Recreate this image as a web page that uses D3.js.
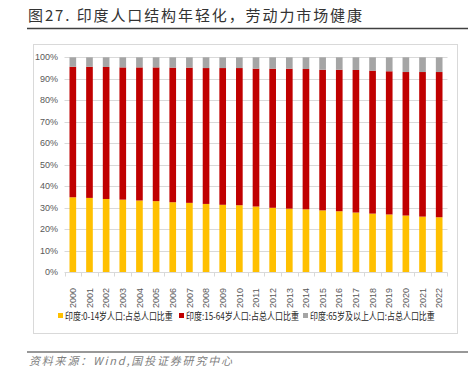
<!DOCTYPE html>
<html><head><meta charset="utf-8">
<script src="https://cdn.jsdelivr.net/npm/d3@7"></script>
<style>body{margin:0;background:#fff;}svg{display:block;font-family:"Noto Sans CJK SC","Liberation Sans",sans-serif;}</style>
</head><body><svg id="c" width="473" height="370"></svg>
<script>
const years = ["2000","2001","2002","2003","2004","2005","2006","2007","2008","2009","2010","2011","2012","2013","2014","2015","2016","2017","2018","2019","2020","2021","2022"];
const young = [34.9,34.6,34.1,33.8,33.4,33.1,32.6,32.3,31.8,31.4,31.2,30.6,30.0,29.6,29.3,28.8,28.4,27.8,27.3,26.9,26.4,25.9,25.6];
const old = [4.4,4.4,4.5,4.7,4.7,4.7,4.8,4.8,5.0,5.0,5.0,5.3,5.3,5.3,5.45,5.8,5.8,5.9,6.2,6.5,6.85,6.85,6.85];
const working = young.map((v,i)=>+(100 - v - old[i]).toFixed(2));
const yTicks = [0,10,20,30,40,50,60,70,80,90,100];
const seriesNames = ["印度:0-14岁人口:占总人口比重","印度:15-64岁人口:占总人口比重","印度:65岁及以上人口:占总人口比重"];
const colors = ["#FFC000","#C00000","#A5A5A5"];

const svg = d3.select("#c");
// title
svg.append("text").attr("x",28).attr("y",21).attr("font-size",15).attr("fill","#333")
  .attr("textLength",334).attr("lengthAdjust","spacing")
  .text("图27. 印度人口结构年轻化，劳动力市场健康");
svg.append("line").attr("x1",27).attr("x2",468).attr("y1",28.5).attr("y2",28.5).attr("stroke","#404040").attr("stroke-width",1.5);
// frame
svg.append("rect").attr("x",33.5).attr("y",44.5).attr("width",424).attr("height",289).attr("fill","none").attr("stroke","#d9d9d9");

const x = d3.scaleBand().domain(years).range([64.5,447.5]).paddingInner(0.6).paddingOuter(0.3);
const y = d3.scaleLinear().domain([0,100]).range([272.3,57.3]);

// grid
svg.append("g").selectAll("line").data(yTicks.slice(1)).join("line")
  .attr("x1",64.5).attr("x2",447.5).attr("y1",d=>Math.round(y(d))+0.5).attr("y2",d=>Math.round(y(d))+0.5)
  .attr("stroke","#d9d9d9");

const data = years.map((yr,i)=>({year:yr, a:young[i], b:working[i], c:old[i]}));
const stack = d3.stack().keys(["a","b","c"])(data);
svg.append("g").selectAll("g").data(stack).join("g").attr("fill",(d,i)=>colors[i])
  .selectAll("rect").data(d=>d).join("rect")
  .attr("x",d=>x(d.data.year)).attr("width",x.bandwidth())
  .attr("y",d=>y(d[1])).attr("height",d=>y(d[0])-y(d[1]));

// y axis labels
svg.append("g").selectAll("text").data(yTicks).join("text")
  .attr("x",58).attr("y",d=>y(d)+3).attr("text-anchor","end").attr("font-size",9).attr("fill","#595959")
  .attr("font-family","Liberation Sans Narrow, Liberation Sans, sans-serif")
  .text(d=>d+"%");

// x axis
const g = svg.append("g").attr("transform","translate(0,272.5)");
g.append("line").attr("x1",64.5).attr("x2",447.5).attr("stroke","#d9d9d9");
const bounds = d3.range(years.length+1).map(i=>64.5 + i*(383/years.length));
g.selectAll("line.t").data(bounds).join("line").attr("class","t")
  .attr("x1",d=>Math.round(d)+0.5).attr("x2",d=>Math.round(d)+0.5).attr("y1",0).attr("y2",4).attr("stroke","#d9d9d9");
g.selectAll("text").data(years).join("text")
  .attr("transform",d=>`translate(${x(d)+x.bandwidth()/2+3.2},${25.5}) rotate(-90)`)
  .attr("text-anchor","middle").attr("font-size",9).attr("fill","#595959")
  .attr("font-family","Liberation Sans, sans-serif")
  .text(d=>d);

// legend
const lg = svg.append("g").attr("font-size",10).attr("fill","#262626");
const lx = [58,179,303];
const lw = [108,113,125];
seriesNames.forEach((n,i)=>{
  lg.append("rect").attr("x",lx[i]).attr("y",313).attr("width",5).attr("height",5).attr("fill",colors[i]);
  const t = lg.append("text").attr("x",0).attr("y",0).attr("fill","#262626").text(n);
  const w = t.node().getComputedTextLength();
  t.attr("transform",`translate(${lx[i]+7},320) scale(${lw[i]/w},1)`);
});

// source
svg.append("line").attr("x1",27).attr("x2",468).attr("y1",352).attr("y2",352).attr("stroke","#333").attr("stroke-width",1.2);
svg.append("text").attr("x",29).attr("y",365).attr("font-size",11).attr("font-style","italic").attr("fill","#7f7f7f")
  .attr("textLength",203).attr("lengthAdjust","spacing")
  .text("资料来源：Wind,国投证券研究中心");
</script></body></html>
